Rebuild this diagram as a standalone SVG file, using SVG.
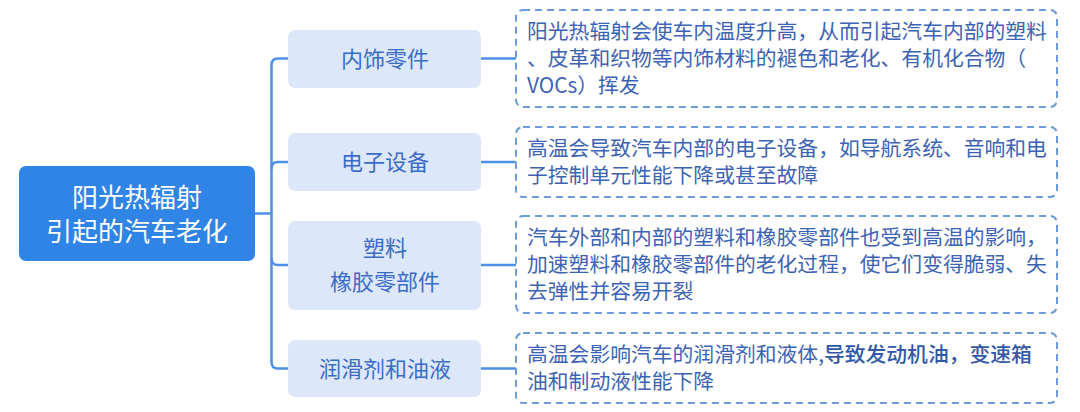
<svg xmlns="http://www.w3.org/2000/svg" width="1080" height="412" viewBox="0 0 1080 412">
<style>
text{font-family:"Noto Sans CJK SC","Noto Sans",sans-serif;}
.root{fill:#2F84E6;}
.rootT{fill:#FFFFFF;font-size:26px;text-anchor:middle;}
.child{fill:#DDE7FA;}
.childT{fill:#3A6CC6;font-size:22px;text-anchor:middle;}
.detail{fill:#FFFFFF;stroke:#6C9CDA;stroke-width:2;stroke-dasharray:7 5;}
.detT{fill:#3D63B4;font-size:20.8px;}
.conn{fill:none;stroke:#4D8FE6;stroke-width:2.5;stroke-linecap:round;}
.b{font-weight:500;fill:#3358A8;}
</style>
<rect width="1080" height="412" fill="#FFFFFF"/>
<g id="connectors">
<path class="conn" d="M255,213.5 H271.5"/>
<path class="conn" d="M288,58.5 H278 Q271.5,58.5 271.5,65 V362 Q271.5,368.5 278,368.5 H288"/>
<path class="conn" d="M288,162 H278 Q271.5,162 271.5,168.5"/>
<path class="conn" d="M288,265 H278 Q271.5,265 271.5,258.5"/>
<path class="conn" d="M481,58.5 H515"/>
<path class="conn" d="M481,162 H515"/>
<path class="conn" d="M481,265 H515"/>
<path class="conn" d="M481,368.5 H515"/>
</g>
<g id="root">
<rect class="root" x="19" y="166" width="236" height="95" rx="7"/>
<text class="rootT" x="137" y="207">阳光热辐射</text>
<text class="rootT" x="137" y="241">引起的汽车老化</text>
</g>
<g id="n1">
<rect class="child" x="288" y="30" width="193" height="58" rx="7"/>
<text class="childT" x="385" y="66.5">内饰零件</text>
</g>
<g id="n2">
<rect class="child" x="288" y="133" width="193" height="58" rx="7"/>
<text class="childT" x="385" y="169.5">电子设备</text>
</g>
<g id="n3">
<rect class="child" x="288" y="221" width="193" height="89" rx="7"/>
<text class="childT" x="385" y="256">塑料</text>
<text class="childT" x="385" y="290">橡胶零部件</text>
</g>
<g id="n4">
<rect class="child" x="288" y="340" width="193" height="57" rx="7"/>
<text class="childT" x="385" y="376.5">润滑剂和油液</text>
</g>
<g id="d1">
<rect class="detail" x="516" y="10" width="541" height="97" rx="7"/>
<text class="detT" x="527" y="38.5">阳光热辐射会使车内温度升高，从而引起汽车内部的塑料</text>
<text class="detT" x="527" y="65.5">、皮革和织物等内饰材料的褪色和老化、有机化合物（</text>
<text class="detT" x="527" y="92.5">VOCs）挥发</text>
</g>
<g id="d2">
<rect class="detail" x="516" y="127" width="541" height="70" rx="7"/>
<text class="detT" x="527" y="155.5">高温会导致汽车内部的电子设备，如导航系统、音响和电</text>
<text class="detT" x="527" y="182.5">子控制单元性能下降或甚至故障</text>
</g>
<g id="d3">
<rect class="detail" x="516" y="216" width="541" height="97" rx="7"/>
<text class="detT" x="527" y="244.5">汽车外部和内部的塑料和橡胶零部件也受到高温的影响，</text>
<text class="detT" x="527" y="271.5">加速塑料和橡胶零部件的老化过程，使它们变得脆弱、失</text>
<text class="detT" x="527" y="298.5">去弹性并容易开裂</text>
</g>
<g id="d4">
<rect class="detail" x="516" y="333" width="541" height="70" rx="7"/>
<text class="detT" x="527" y="361.5">高温会影响汽车的润滑剂和液体,<tspan class="b">导致发动机油，变速箱</tspan></text>
<text class="detT" x="527" y="388.5">油和制动液性能下降</text>
</g>
</svg>
